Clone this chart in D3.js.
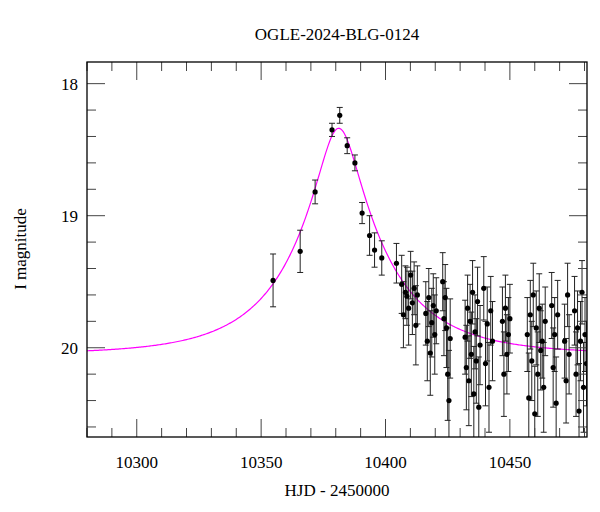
<!DOCTYPE html>
<html>
<head>
<meta charset="utf-8">
<script src="https://cdn.jsdelivr.net/npm/d3@7"></script>
<style>
body { margin: 0; background: #fff; }
text { font-family: "Liberation Serif", "DejaVu Serif", serif; }
</style>
</head>
<body>
<svg id="chart" width="600" height="512"></svg>
<script>
// observations: HJD-2450000, I mag, error
let hjd = [10354.8, 10365.7, 10371.7, 10378.5, 10381.6, 10384.6, 10387.7, 10390.6, 10393.6, 10395.6, 10398.5, 10404.4,
    10406.5, 10407.2, 10408.0, 10408.6, 10409.3, 10410.1, 10410.8, 10411.5, 10412.2, 10412.8,
    10416.2, 10416.8, 10417.4, 10418.0, 10418.6, 10419.2, 10419.8, 10420.4,
    10423.0, 10423.5, 10424.0, 10424.5, 10425.0, 10425.5, 10426.0,
    10432.0, 10432.5, 10433.0, 10433.5, 10434.0, 10434.5, 10435.0, 10435.5, 10436.0, 10436.5, 10437.0, 10437.5, 10438.0,
    10439.5, 10440.2, 10440.9, 10441.6, 10442.3, 10443.0,
    10447.0, 10447.6, 10448.2, 10448.8, 10449.4, 10450.0,
    10457.0, 10457.6, 10458.2, 10458.8, 10459.4, 10460.0, 10460.6, 10461.2, 10461.8, 10462.4, 10463.0, 10463.6, 10464.2,
    10466.8, 10467.4, 10468.0, 10468.6, 10469.2,
    10472.0, 10472.6, 10473.2, 10473.8,
    10476.0, 10476.6, 10477.2, 10477.8, 10478.4, 10479.0, 10479.6, 10480.2, 10480.8]
let mag = [19.49, 19.27, 18.82, 18.35, 18.24, 18.47, 18.60, 18.98, 19.15, 19.26, 19.32, 19.36,
    19.52, 19.75, 19.58, 19.61, 19.70, 19.45, 19.66, 19.55, 19.83, 19.60,
    19.74, 19.95, 19.62, 20.04, 19.81, 19.68, 19.90, 19.72,
    19.50, 19.78, 19.62, 19.85, 20.20, 20.40, 19.93,
    19.92, 20.15, 19.70, 20.25, 19.80, 20.05, 19.58, 20.35, 19.88, 20.10, 19.65, 20.45, 19.98,
    19.55, 20.12, 19.82, 20.30, 19.72, 19.95,
    19.80, 20.20, 19.70, 20.05, 19.90, 19.78,
    19.90, 20.38, 19.75, 20.10, 19.60, 20.50, 19.85, 20.20, 19.70, 20.02, 19.95, 20.30, 19.80,
    19.68, 20.15, 19.90, 20.42, 19.75,
    19.95, 20.25, 19.60, 20.05,
    19.72, 20.20, 19.85, 20.48, 19.95, 19.58, 20.30, 19.90, 20.12]
let err = [0.20, 0.16, 0.09, 0.05, 0.06, 0.06, 0.06, 0.08, 0.15, 0.13, 0.13, 0.15,
    0.22, 0.25, 0.20, 0.22, 0.28, 0.18, 0.24, 0.20, 0.30, 0.22,
    0.24, 0.30, 0.22, 0.32, 0.26, 0.24, 0.30, 0.25,
    0.22, 0.28, 0.25, 0.30, 0.35, 0.38, 0.30,
    0.28, 0.32, 0.25, 0.34, 0.28, 0.32, 0.24, 0.36, 0.28, 0.32, 0.26, 0.38, 0.30,
    0.24, 0.32, 0.28, 0.34, 0.26, 0.30,
    0.26, 0.32, 0.25, 0.30, 0.28, 0.26,
    0.28, 0.34, 0.26, 0.30, 0.24, 0.36, 0.28, 0.32, 0.26, 0.30, 0.28, 0.34, 0.26,
    0.25, 0.30, 0.28, 0.35, 0.26,
    0.28, 0.32, 0.24, 0.30,
    0.26, 0.32, 0.28, 0.36, 0.30, 0.24, 0.34, 0.28, 0.32]
let xTicks = [10300, 10350, 10400, 10450]
let yTicks = [18, 19, 20]

// PSPL model fit parameters
let t0 = 10381.2, tE = 38, u0 = 0.21, baseMag = 20.05

let svg = d3.select("#chart")
let pLeft = 87, pRight = 587, pTop = 62, pBottom = 437

let x = d3.scaleLinear().domain([10280, 10481]).range([pLeft, pRight])
let y = d3.scaleLinear().domain([17.836, 20.676]).range([pTop, pBottom])

svg.append("defs").append("clipPath").attr("id", "clip")
    .append("rect").attr("x", pLeft).attr("y", pTop).attr("width", pRight - pLeft).attr("height", pBottom - pTop)
let plot = svg.append("g").attr("clip-path", "url(#clip)")

// model curve
function model(t) {
    let u = Math.sqrt(u0 * u0 + ((t - t0) / tE) ** 2)
    let A = (u * u + 2) / (u * Math.sqrt(u * u + 4))
    return baseMag - 2.5 * Math.log10(A)
}
let ts = d3.range(10280, 10481.5, 0.5)
plot.append("path")
    .attr("d", d3.line().x(t => x(t)).y(t => y(model(t)))(ts))
    .attr("fill", "none").attr("stroke", "#ff00ff").attr("stroke-width", 1.2)

// error bars + points
let pts = hjd.map((t, i) => ({ t: t, m: mag[i], e: err[i] }))
let eb = plot.selectAll(".eb").data(pts).enter().append("g").attr("stroke", "#222").attr("stroke-width", 1)
eb.append("line").attr("x1", d => x(d.t)).attr("x2", d => x(d.t))
    .attr("y1", d => y(d.m - d.e)).attr("y2", d => y(d.m + d.e))
eb.append("line").attr("x1", d => x(d.t) - 3).attr("x2", d => x(d.t) + 3)
    .attr("y1", d => y(d.m - d.e)).attr("y2", d => y(d.m - d.e))
eb.append("line").attr("x1", d => x(d.t) - 3).attr("x2", d => x(d.t) + 3)
    .attr("y1", d => y(d.m + d.e)).attr("y2", d => y(d.m + d.e))
plot.selectAll(".pt").data(pts).enter().append("circle")
    .attr("cx", d => x(d.t)).attr("cy", d => y(d.m)).attr("r", 2.6).attr("fill", "#000")

// ticks on all four sides
let tickCol = "#444"
let xMinor = d3.range(10280, 10481, 10)
let yMinor = d3.range(17.8, 20.7, 0.2).filter(v => v > 17.836 && v < 20.676)
function major(v, list) { return list.some(t => Math.abs(t - v) < 1e-6) }
xMinor.forEach(v => {
    let len = major(v, xTicks) ? 18 : 9
    svg.append("line").attr("x1", x(v)).attr("x2", x(v)).attr("y1", pBottom).attr("y2", pBottom - len).attr("stroke", tickCol)
    svg.append("line").attr("x1", x(v)).attr("x2", x(v)).attr("y1", pTop).attr("y2", pTop + len).attr("stroke", tickCol)
})
yMinor.forEach(v => {
    let len = major(v, yTicks) ? 18 : 9
    svg.append("line").attr("x1", pLeft).attr("x2", pLeft + len).attr("y1", y(v)).attr("y2", y(v)).attr("stroke", tickCol)
    svg.append("line").attr("x1", pRight).attr("x2", pRight - len).attr("y1", y(v)).attr("y2", y(v)).attr("stroke", tickCol)
})
svg.append("rect").attr("x", pLeft).attr("y", pTop).attr("width", pRight - pLeft).attr("height", pBottom - pTop)
    .attr("fill", "none").attr("stroke", "#000").attr("stroke-width", 1.3)

// labels
svg.selectAll(".xl").data(xTicks).enter().append("text")
    .attr("x", d => x(d)).attr("y", 468).attr("text-anchor", "middle").attr("font-size", 17).text(d => d)
svg.selectAll(".yl").data(yTicks).enter().append("text")
    .attr("x", 78).attr("y", d => y(d) + 6).attr("text-anchor", "end").attr("font-size", 17).text(d => d)
svg.append("text").attr("x", 337).attr("y", 496).attr("text-anchor", "middle").attr("font-size", 17).text("HJD - 2450000")
svg.append("text").attr("transform", "translate(26,249) rotate(-90)").attr("text-anchor", "middle")
    .attr("font-size", 17).text("I magnitude")
svg.append("text").attr("x", 337).attr("y", 40).attr("text-anchor", "middle").attr("font-size", 17).text("OGLE-2024-BLG-0124")
</script>
</body>
</html>
